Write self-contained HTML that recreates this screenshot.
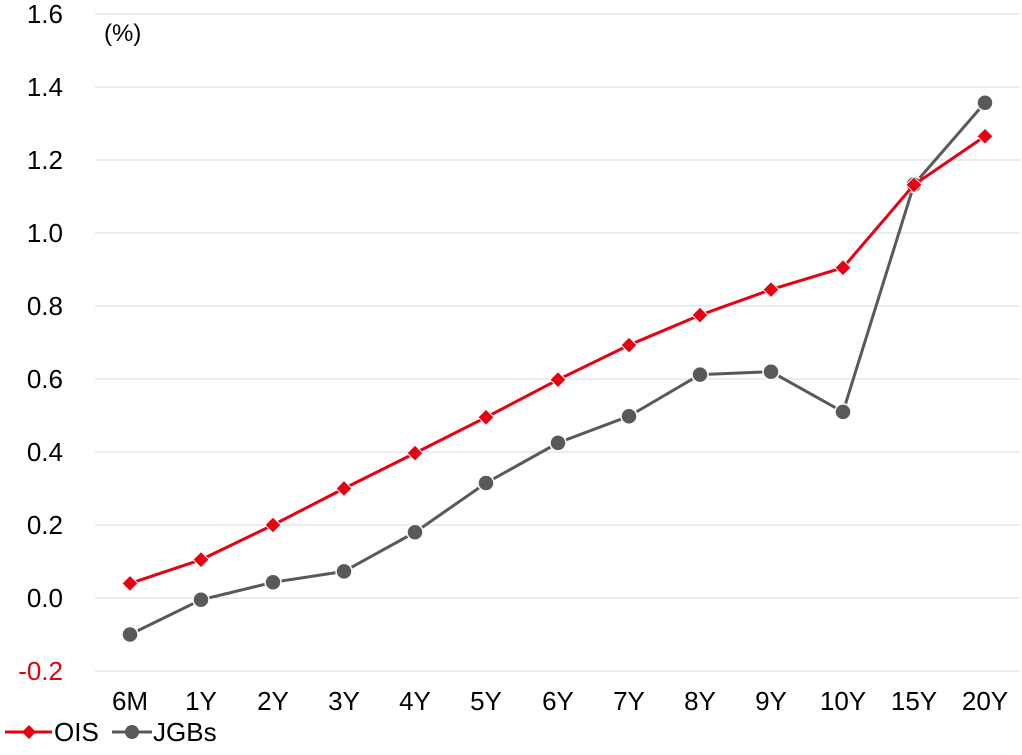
<!DOCTYPE html>
<html><head><meta charset="utf-8"><style>
html,body{margin:0;padding:0;background:#fff;}
svg text{font-family:"Liberation Sans","Noto Sans CJK JP",sans-serif;}
</style></head><body>
<svg width="1022" height="750" viewBox="0 0 1022 750" xmlns="http://www.w3.org/2000/svg">
<g stroke="#d9d9d9" stroke-width="1">
<line x1="95" x2="1020" y1="14" y2="14"/><line x1="95" x2="1020" y1="87" y2="87"/>
<line x1="95" x2="1020" y1="160" y2="160"/><line x1="95" x2="1020" y1="233" y2="233"/>
<line x1="95" x2="1020" y1="306" y2="306"/><line x1="95" x2="1020" y1="379" y2="379"/>
<line x1="95" x2="1020" y1="452" y2="452"/><line x1="95" x2="1020" y1="525" y2="525"/>
<line x1="95" x2="1020" y1="598" y2="598"/><line x1="95" x2="1020" y1="671" y2="671"/>
</g>
<g font-size="26" fill="#000" text-anchor="end">
<text x="63" y="23">1.6</text><text x="63" y="96">1.4</text><text x="63" y="169">1.2</text>
<text x="63" y="242">1.0</text><text x="63" y="315">0.8</text><text x="63" y="388">0.6</text>
<text x="63" y="461">0.4</text><text x="63" y="534">0.2</text><text x="63" y="607">0.0</text>
<text x="63" y="680" fill="#e60012">-0.2</text>
</g>
<text x="104" y="41" font-size="24">(%)</text>
<g font-size="26" text-anchor="middle">
<text x="130" y="710">6M</text><text x="201" y="710">1Y</text><text x="273" y="710">2Y</text>
<text x="344" y="710">3Y</text><text x="415" y="710">4Y</text><text x="486" y="710">5Y</text>
<text x="558" y="710">6Y</text><text x="629" y="710">7Y</text><text x="700" y="710">8Y</text>
<text x="771" y="710">9Y</text><text x="843" y="710">10Y</text><text x="914" y="710">15Y</text>
<text x="985" y="710">20Y</text>
</g>
<polyline fill="none" stroke="#595959" stroke-width="3" points="130,634.5 201,599.8 273,582.3 344,571.4 415,532.3 486,483 558,442.9 629,416.2 700,374.6 771,371.7 843,411.9 914,184.5 985,102.7"/>
<g fill="#595959" stroke="#fff" stroke-width="1.5">
<circle cx="130" cy="634.5" r="8"/><circle cx="201" cy="599.8" r="8"/><circle cx="273" cy="582.3" r="8"/>
<circle cx="344" cy="571.4" r="8"/><circle cx="415" cy="532.3" r="8"/><circle cx="486" cy="483" r="8"/>
<circle cx="558" cy="442.9" r="8"/><circle cx="629" cy="416.2" r="8"/><circle cx="700" cy="374.6" r="8"/>
<circle cx="771" cy="371.7" r="8"/><circle cx="843" cy="411.9" r="8"/><circle cx="914" cy="184.5" r="8"/>
<circle cx="985" cy="102.7" r="8"/>
</g>
<polyline fill="none" stroke="#e60012" stroke-width="3" points="130,583.4 201,559.7 273,525 344,488.5 415,453.1 486,417.3 558,379.7 629,345.1 700,315.1 771,289.6 843,267.7 914,184.8 985,136.3"/>
<g fill="#e60012" stroke="#fff" stroke-width="1">
<path d="M130 575.4l8 8-8 8-8-8z"/><path d="M201 551.7l8 8-8 8-8-8z"/><path d="M273 517l8 8-8 8-8-8z"/>
<path d="M344 480.5l8 8-8 8-8-8z"/><path d="M415 445.1l8 8-8 8-8-8z"/><path d="M486 409.3l8 8-8 8-8-8z"/>
<path d="M558 371.7l8 8-8 8-8-8z"/><path d="M629 337.1l8 8-8 8-8-8z"/><path d="M700 307.1l8 8-8 8-8-8z"/>
<path d="M771 281.6l8 8-8 8-8-8z"/><path d="M843 259.7l8 8-8 8-8-8z"/><path d="M914 176.8l8 8-8 8-8-8z"/>
<path d="M985 128.3l8 8-8 8-8-8z"/>
</g>
<line x1="5" x2="52" y1="732" y2="732" stroke="#e60012" stroke-width="3"/>
<path d="M29 725l7 7-7 7-7-7z" fill="#e60012"/>
<text x="54" y="741" font-size="26">OIS</text>
<line x1="112" x2="152" y1="732" y2="732" stroke="#595959" stroke-width="3"/>
<circle cx="132" cy="732" r="7" fill="#595959"/>
<text x="153" y="741" font-size="26">JGBs</text>
</svg>
</body></html>
